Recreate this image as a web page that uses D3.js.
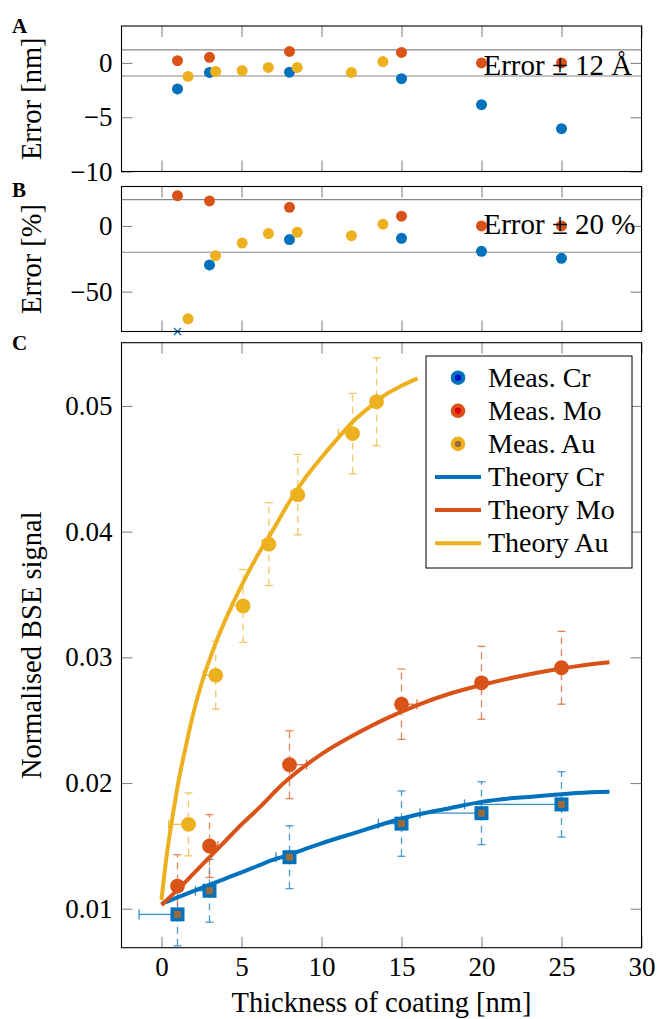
<!DOCTYPE html>
<html><head><meta charset="utf-8">
<script src="https://cdn.jsdelivr.net/npm/d3@7"></script>
<style>
html,body{margin:0;padding:0;background:#fff;}
svg{display:block;font-family:"Liberation Serif","Times New Roman",serif;}
</style></head>
<body><svg id="chart" width="657" height="1019"></svg>
<script>
// ---------- data ----------
const xTicks = [0, 5, 10, 15, 20, 25, 30];
const yTicksA = [-10, -5, 0];
const yTicksB = [-50, 0];
const yTicksC = [0.01, 0.02, 0.03, 0.04, 0.05];

const thickCr = [1, 3, 8, 15, 20, 25];
const thickMo = [1, 3, 8, 15, 20, 25];
const thickAuErr = [1.66, 3.38, 5.04, 6.68, 8.48, 11.87, 13.84]; // panels A, B
const thickAu = [1.69, 3.39, 5.10, 6.71, 8.52, 11.94, 13.44];    // panel C

const errNmCr = [-2.40, -0.88, -0.85, -1.45, -3.85, -6.06];
const errNmMo = [0.21, 0.52, 1.06, 0.97, 0.00, 0.00];
const errNmAu = [-1.24, -0.79, -0.70, -0.42, -0.42, -0.88, 0.12];

const errPctCr = [-240, -29.7, -10.4, -9.4, -19.3, -24.6];
const errPctMo = [23.0, 19.0, 14.2, 7.4, 0.0, 0.0];
const errPctAu = [-70.6, -22.6, -13.0, -5.8, -4.8, -7.4, 1.3];

const bseCr = [0.00955, 0.01143, 0.01410, 0.01677, 0.01760, 0.01830];
const bseCrErr = [0.0025, 0.0025, 0.0025, 0.0026, 0.0025, 0.0026];
const bseMo = [0.01180, 0.01499, 0.02146, 0.02627, 0.02797, 0.02917];
const bseMoErr = [0.0025, 0.0025, 0.0027, 0.0028, 0.0029, 0.0029];
const bseAu = [0.01671, 0.02857, 0.03409, 0.03900, 0.04294, 0.04780, 0.05034];
const bseAuErr = [0.0025, 0.0027, 0.0029, 0.0033, 0.0032, 0.0032, 0.0035];

const theoryX = [0, 1, 2, 3, 4, 5, 6, 7, 8, 10, 12, 14, 16, 18, 20, 22, 24, 26, 28];
const theoryCr = [0.0104, 0.0109, 0.0114, 0.0119, 0.0124, 0.0129, 0.0134, 0.0139, 0.0143, 0.0152, 0.0160, 0.0168, 0.0175, 0.0180, 0.0185, 0.0188, 0.0190, 0.0192, 0.0193];
const theoryMo = [0.0103, 0.0115, 0.0128, 0.0141, 0.0154, 0.0167, 0.0179, 0.0192, 0.0204, 0.0223, 0.0238, 0.0251, 0.0262, 0.0271, 0.0278, 0.0284, 0.0289, 0.0293, 0.0296];
const theoryAuX = [0, 0.25, 0.5, 0.75, 1, 1.5, 2, 2.5, 3, 3.5, 4, 5, 6, 7, 8, 9, 10, 11, 12, 13, 14, 15, 16];
const theoryAu = [0.0107, 0.0135, 0.0158, 0.0178, 0.0197, 0.0228, 0.0256, 0.0279, 0.0298, 0.0315, 0.0330, 0.0357, 0.0381, 0.0402, 0.0424, 0.0443, 0.0459, 0.0474, 0.0488, 0.0499, 0.0509, 0.0516, 0.0522];

const errBandNm = 1.2;
const errBandPct = 20;
const legendLabels = ["Meas. Cr", "Meas. Mo", "Meas. Au", "Theory Cr", "Theory Mo", "Theory Au"];

// ---------- style ----------
const C_CR = "#0072BD", C_MO = "#D95319", C_AU = "#EDB120";
const INNER = {Cr: "#0010C8", Mo: "#E00010", Au: "#9A6A3A"};
const TICK_FONT = 27, LABEL_FONT = 28.5, LEGEND_FONT = 28, NOTE_FONT = 29;

const svg = d3.select("#chart");
const xL = 121.5, xR = 641.5;
const x = d3.scaleLinear().domain([-2.5, 30]).range([xL, xR]);

const panels = {
  A: {top: 26, bottom: 171.5, domain: [-10, 3.4], ticks: yTicksA, fmt: d3.format("d"), label: "Error [nm]", letterY: 33},
  B: {top: 186.5, bottom: 331.5, domain: [-80.3, 30], ticks: yTicksB, fmt: d3.format("d"), label: "Error [%]", letterY: 197},
  C: {top: 342.7, bottom: 947.7, domain: [0.0069, 0.05503], ticks: yTicksC, fmt: d3.format(".2f"), label: "Normalised BSE signal", letterY: 350}
};
for (const k in panels) {
  const p = panels[k];
  p.y = d3.scaleLinear().domain(p.domain).range([p.bottom, p.top]);
}

function drawFrame(p, showX) {
  const g = svg.append("g");
  const tk = 11;
  const styleAxis = sel => {
    sel.select(".domain").remove();
    sel.selectAll(".tick line").attr("stroke", "#888").attr("stroke-width", 1.1);
    sel.selectAll("text").attr("font-size", TICK_FONT).attr("fill", "#000")
      .attr("font-family", "Liberation Serif, serif");
  };
  g.append("g").attr("transform", `translate(${xL},0)`)
    .call(d3.axisLeft(p.y).tickValues(p.ticks).tickFormat(p.fmt).tickSizeInner(-tk).tickSizeOuter(0).tickPadding(9))
    .call(styleAxis);
  g.append("g").attr("transform", `translate(${xR},0)`)
    .call(d3.axisRight(p.y).tickValues(p.ticks).tickFormat("").tickSizeInner(-tk).tickSizeOuter(0))
    .call(styleAxis);
  g.append("g").attr("transform", `translate(0,${p.top})`)
    .call(d3.axisTop(x).tickValues(xTicks).tickFormat("").tickSizeInner(-tk).tickSizeOuter(0))
    .call(styleAxis);
  g.append("g").attr("transform", `translate(0,${p.bottom})`)
    .call(d3.axisBottom(x).tickValues(xTicks).tickFormat(showX ? d3.format("d") : "").tickSizeInner(-tk).tickSizeOuter(0).tickPadding(9))
    .call(styleAxis);
  return g;
}
function drawBox(p) {
  svg.append("rect").attr("x", xL).attr("y", p.top).attr("width", xR - xL).attr("height", p.bottom - p.top)
    .attr("fill", "none").attr("stroke", "#000").attr("stroke-width", 1.1);
}

// ---------- panels A and B ----------
function errorPanel(p, band, cr, mo, au, text, textDy) {
  drawFrame(p, false);
  [band, -band].forEach(v => {
    svg.append("line").attr("x1", xL).attr("x2", xR).attr("y1", p.y(v)).attr("y2", p.y(v))
      .attr("stroke", "#888").attr("stroke-width", 1.1);
  });
  const [d0, d1] = p.domain;
  const series = [
    {xs: thickCr, ys: cr, c: C_CR},
    {xs: thickMo, ys: mo, c: C_MO},
    {xs: thickAuErr, ys: au, c: C_AU}
  ];
  series.forEach(s => {
    const pts = s.xs.map((xx, i) => ({x: xx, y: s.ys[i]}));
    svg.append("g").selectAll("circle").data(pts.filter(d => d.y >= d0 && d.y <= d1)).join("circle")
      .attr("cx", d => x(d.x)).attr("cy", d => p.y(d.y)).attr("r", 5.5).attr("fill", s.c);
    const off = pts.filter(d => d.y < d0);
    svg.append("g").selectAll("path").data(off).join("path")
      .attr("d", d => { const cx = x(d.x), cy = p.y(d0); return `M${cx-3.5},${cy-3.5}L${cx+3.5},${cy+3.5}M${cx-3.5},${cy+3.5}L${cx+3.5},${cy-3.5}`; })
      .attr("stroke", s.c).attr("stroke-width", 1.3).attr("fill", "none");
  });
  svg.append("text").attr("x", x(20) + 2).attr("y", p.y(0) + textDy)
    .attr("font-size", NOTE_FONT).text(text);
  drawBox(p);
}
errorPanel(panels.A, errBandNm, errNmCr, errNmMo, errNmAu, "Error \u00b1 12 \u00c5", 12);
errorPanel(panels.B, errBandPct, errPctCr, errPctMo, errPctAu, "Error \u00b1 20 %", 8);

// ---------- panel C ----------
const pC = panels.C;
drawFrame(pC, true);
const yC = pC.y;

const meas = [
  {name: "Cr", xs: thickCr, ys: bseCr, es: bseCrErr, dx: errNmCr, c: C_CR},
  {name: "Mo", xs: thickMo, ys: bseMo, es: bseMoErr, dx: errNmMo, c: C_MO},
  {name: "Au", xs: thickAu, ys: bseAu, es: bseAuErr, dx: errNmAu, c: C_AU}
];
// error bars
meas.forEach(s => {
  const g = svg.append("g");
  const pts = s.xs.map((xx, i) => ({x: xx, y: s.ys[i], e: s.es[i], dx: s.dx[i]}));
  g.selectAll("line.v").data(pts).join("line").attr("class", "v")
    .attr("x1", d => x(d.x)).attr("x2", d => x(d.x))
    .attr("y1", d => yC(d.y - d.e)).attr("y2", d => yC(d.y + d.e))
    .attr("stroke", s.c).attr("stroke-opacity", 0.7).attr("stroke-width", 1.3).attr("stroke-dasharray", "7,5");
  [1, -1].forEach(sg => {
    g.selectAll("line.cap" + (sg > 0 ? "t" : "b")).data(pts).join("line").attr("class", "cap" + (sg > 0 ? "t" : "b"))
      .attr("x1", d => x(d.x) - 4).attr("x2", d => x(d.x) + 4)
      .attr("y1", d => yC(d.y + sg * d.e)).attr("y2", d => yC(d.y + sg * d.e))
      .attr("stroke", s.c).attr("stroke-opacity", 0.7).attr("stroke-width", 1.3);
  });
  const hp = pts.filter(d => d.dx !== 0);
  g.selectAll("line.h").data(hp).join("line").attr("class", "h")
    .attr("x1", d => x(d.x)).attr("x2", d => x(d.x + d.dx))
    .attr("y1", d => yC(d.y)).attr("y2", d => yC(d.y))
    .attr("stroke", s.c).attr("stroke-opacity", 0.8).attr("stroke-width", 1.3);
  g.selectAll("line.hc").data(hp).join("line").attr("class", "hc")
    .attr("x1", d => x(d.x + d.dx)).attr("x2", d => x(d.x + d.dx))
    .attr("y1", d => yC(d.y) - 5).attr("y2", d => yC(d.y) + 5)
    .attr("stroke", s.c).attr("stroke-opacity", 0.8).attr("stroke-width", 1.3);
});

// theory lines
const lineSmooth = d3.line().x(d => x(d[0])).y(d => yC(d[1])).curve(d3.curveNatural);
const lineMono = d3.line().x(d => x(d[0])).y(d => yC(d[1])).curve(d3.curveMonotoneX);
const theory = [
  {xs: theoryX, ys: theoryCr, c: C_CR, gen: lineSmooth},
  {xs: theoryX, ys: theoryMo, c: C_MO, gen: lineSmooth},
  {xs: theoryAuX, ys: theoryAu, c: C_AU, gen: lineMono}
];
theory.forEach(t => {
  svg.append("path").datum(t.xs.map((xx, i) => [xx, t.ys[i]]))
    .attr("d", t.gen).attr("fill", "none").attr("stroke", t.c).attr("stroke-width", 4);
});

// markers
meas.forEach(s => {
  const pts = s.xs.map((xx, i) => ({x: xx, y: s.ys[i]}));
  const g = svg.append("g");
  if (s.name === "Cr") {
    g.selectAll("rect.o").data(pts).join("rect").attr("class", "o")
      .attr("x", d => x(d.x) - 7).attr("y", d => yC(d.y) - 7).attr("width", 14).attr("height", 14)
      .attr("fill", s.c);
    g.selectAll("rect.i").data(pts).join("rect").attr("class", "i")
      .attr("x", d => x(d.x) - 3.5).attr("y", d => yC(d.y) - 3.5).attr("width", 7).attr("height", 7)
      .attr("fill", INNER.Au);
  } else {
    g.selectAll("circle").data(pts).join("circle")
      .attr("cx", d => x(d.x)).attr("cy", d => yC(d.y)).attr("r", 7.4).attr("fill", s.c);
  }
});
drawBox(pC);

// legend
const lg = svg.append("g");
lg.append("rect").attr("x", 426).attr("y", 356).attr("width", 206).attr("height", 212)
  .attr("fill", "#fff").attr("stroke", "#000").attr("stroke-width", 1);
const legColors = [C_CR, C_MO, C_AU, C_CR, C_MO, C_AU];
const legInner = [INNER.Cr, INNER.Mo, INNER.Au];
legendLabels.forEach((lab, i) => {
  const yy = 377.7 + i * 33.1;
  if (i < 3) {
    lg.append("circle").attr("cx", 458).attr("cy", yy).attr("r", 7.3).attr("fill", legColors[i]);
    lg.append("circle").attr("cx", 458).attr("cy", yy).attr("r", 3.2).attr("fill", legInner[i]);
  } else {
    lg.append("line").attr("x1", 435).attr("x2", 481).attr("y1", yy).attr("y2", yy)
      .attr("stroke", legColors[i]).attr("stroke-width", 4);
  }
  lg.append("text").attr("x", 488).attr("y", yy).attr("dy", "0.33em")
    .attr("font-size", LEGEND_FONT).text(lab);
});

// axis labels
svg.append("text").attr("x", (xL + xR) / 2).attr("y", 1012).attr("text-anchor", "middle")
  .attr("font-size", LABEL_FONT).text("Thickness of coating [nm]");
for (const k in panels) {
  const p = panels[k];
  svg.append("text").attr("transform", `translate(41,${(p.top + p.bottom) / 2}) rotate(-90)`)
    .attr("text-anchor", "middle").attr("font-size", LABEL_FONT).text(p.label);
  svg.append("text").attr("x", 12).attr("y", p.letterY).attr("font-size", 21).attr("font-weight", "bold").text(k);
}
</script></body></html>
